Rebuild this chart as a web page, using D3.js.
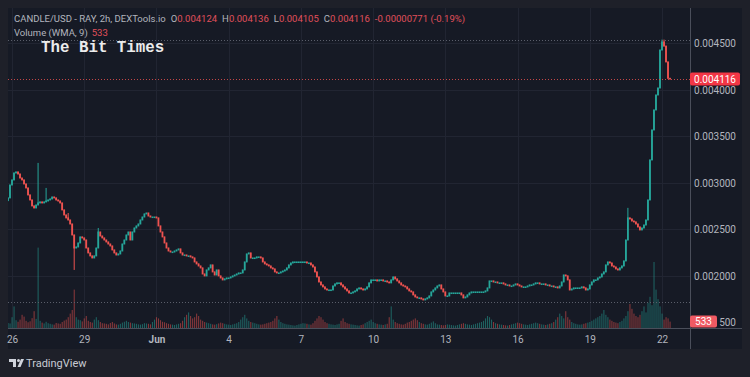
<!DOCTYPE html>
<html><head><meta charset="utf-8">
<script src="https://cdn.jsdelivr.net/npm/d3@7"></script>
<style>html,body{margin:0;padding:0;background:#1e2029;}svg{display:block}</style>
</head><body>
<svg id="c" width="750" height="377"></svg>
<script>
// ---- data ----
const firstCandle = "2023-05-25 20:00";   // 2h candles
const firstOpen = 0.002810;
const closes = [
0.002839,0.002978,0.003032,0.003107,0.003118,0.003096,0.003053,0.003032,0.002989,0.002946,
0.002871,0.002817,0.002753,0.002731,0.002763,0.002785,0.002796,0.002785,0.002796,0.002806,
0.002817,0.002828,0.002849,0.002839,0.002817,0.002806,0.002785,0.002710,0.002656,0.002624,
0.002602,0.002559,0.002441,0.002301,0.002312,0.002355,0.002420,0.002409,0.002387,0.002301,
0.002248,0.002216,0.002194,0.002216,0.002301,0.002473,0.002430,0.002409,0.002387,0.002366,
0.002344,0.002323,0.002280,0.002248,0.002226,0.002237,0.002269,0.002344,0.002387,0.002441,
0.002473,0.002387,0.002473,0.002516,0.002538,0.002559,0.002602,0.002634,0.002667,0.002677,
0.002645,0.002634,0.002634,0.002634,0.002624,0.002538,0.002473,0.002420,0.002355,0.002301,
0.002269,0.002258,0.002258,0.002269,0.002280,0.002291,0.002248,0.002226,0.002226,0.002216,
0.002216,0.002205,0.002194,0.002151,0.002130,0.002108,0.002087,0.002022,0.002001,0.002065,
0.002087,0.002119,0.002044,0.002011,0.002065,0.002001,0.001979,0.001958,0.001969,0.001979,
0.001979,0.001990,0.002001,0.002011,0.002022,0.002033,0.002033,0.002065,0.002151,0.002237,
0.002248,0.002194,0.002194,0.002194,0.002205,0.002205,0.002194,0.002151,0.002130,0.002119,
0.002108,0.002087,0.002076,0.002044,0.002033,0.002033,0.002044,0.002054,0.002065,0.002087,
0.002119,0.002140,0.002151,0.002151,0.002151,0.002151,0.002151,0.002151,0.002151,0.002140,
0.002140,0.002119,0.002097,0.002044,0.001990,0.001936,0.001904,0.001883,0.001861,0.001850,
0.001850,0.001850,0.001893,0.001915,0.001926,0.001926,0.001904,0.001883,0.001861,0.001840,
0.001818,0.001818,0.001829,0.001840,0.001861,0.001872,0.001861,0.001850,0.001861,0.001883,
0.001926,0.001958,0.001958,0.001958,0.001947,0.001958,0.001958,0.001947,0.001947,0.001936,
0.001926,0.001958,0.001990,0.001969,0.001947,0.001926,0.001904,0.001893,0.001883,0.001861,
0.001840,0.001829,0.001797,0.001775,0.001765,0.001765,0.001754,0.001743,0.001754,0.001765,
0.001786,0.001829,0.001850,0.001872,0.001893,0.001904,0.001861,0.001829,0.001786,0.001786,
0.001818,0.001818,0.001818,0.001818,0.001818,0.001818,0.001797,0.001765,0.001775,0.001797,
0.001818,0.001829,0.001829,0.001829,0.001829,0.001829,0.001829,0.001829,0.001840,0.001872,
0.001947,0.001947,0.001936,0.001936,0.001926,0.001926,0.001926,0.001915,0.001904,0.001904,
0.001893,0.001893,0.001904,0.001915,0.001904,0.001893,0.001883,0.001883,0.001883,0.001893,
0.001904,0.001904,0.001915,0.001926,0.001926,0.001915,0.001915,0.001915,0.001904,0.001904,
0.001893,0.001893,0.001883,0.001883,0.001872,0.001893,0.001936,0.002011,0.002001,0.001958,
0.001850,0.001861,0.001872,0.001872,0.001872,0.001872,0.001883,0.001872,0.001850,0.001861,
0.001904,0.001936,0.001958,0.001958,0.001979,0.001990,0.002022,0.002044,0.002119,0.002151,
0.002140,0.002108,0.002097,0.002076,0.002065,0.002087,0.002108,0.002162,0.002387,0.002624,
0.002613,0.002591,0.002581,0.002559,0.002527,0.002495,0.002516,0.002548,0.002602,0.002817,
0.003247,0.003569,0.003784,0.003945,0.004020,0.004428,0.004514,0.004470,0.004300,0.004124,
0.004116
];
const wickHighIdx = [15, 19, 30, 45, 309, 326, 327];
const wickHighVal = [0.003215, 0.002946, 0.002677, 0.002516, 0.002732, 0.004540, 0.004540];
const wickLowIdx = [33];
const wickLowVal = [0.002065];
const volumes = [
420,380,900,1800,650,520,700,1100,950,600,480,560,820,1400,760,6700,600,450,380,520,
400,350,300,280,420,380,350,500,620,700,900,1200,1500,3200,900,700,650,550,800,1000,
600,500,450,700,900,650,500,400,380,350,300,420,500,380,300,280,350,450,520,600,
500,450,400,380,350,300,280,320,400,380,350,300,500,700,900,800,650,520,480,400,
350,300,280,250,300,350,400,600,900,1100,1300,1000,800,900,1200,1000,700,600,500,450,
400,350,300,280,320,380,450,400,350,300,280,250,300,350,400,500,700,900,1100,800,
600,500,450,400,350,300,280,300,350,400,450,500,600,800,1000,700,500,400,350,300,
280,250,220,200,250,300,350,400,380,350,300,280,400,600,800,1000,900,700,500,400,
350,300,280,250,300,350,600,800,500,400,350,300,280,250,220,200,250,300,400,500,
600,700,500,400,350,300,280,250,300,350,900,1800,700,500,400,350,300,280,350,450,
500,600,700,800,650,500,400,350,300,280,350,450,550,400,300,280,250,220,250,300,
280,250,220,200,250,300,350,400,350,300,280,250,300,350,400,450,500,600,800,1000,
900,700,500,400,350,300,280,250,220,200,250,300,350,400,450,400,350,300,280,250,
300,350,400,450,400,350,300,280,250,300,350,400,500,700,900,1200,1000,800,1400,900,
700,500,400,350,300,280,300,350,400,450,500,600,700,800,900,1000,1200,1500,1100,900,
700,600,500,450,400,500,600,800,1000,1400,2000,1600,1200,1000,900,1100,1400,1800,1300,2100,
2600,1900,5500,3200,2400,1800,1200,700,900,800,533
];
const priceTicks = [0.0045, 0.004, 0.0035, 0.003, 0.0025, 0.002];
const volTicks = [500];
const dateTicks = ["2023-05-26","2023-05-29","2023-06-01","2023-06-04","2023-06-07","2023-06-10","2023-06-13","2023-06-16","2023-06-19","2023-06-22"];
const lastPrice = 0.004116, lastVolume = 533;
const highMark = 0.00454, lowMark = 0.00172;
const headerTitle = "CANDLE/USD - RAY, 2h, DEXTools.io";
const ohlcLabels = ["O","H","L","C"];
const ohlcValues = ["0.004124","0.004136","0.004105","0.004116"];
const changeText = "-0.00000771 (-0.19%)";

// ---- chart ----
const svg = d3.select("#c");
const W = 750, H = 377;
const pane = {l: 8, t: 8, r: 742, b: 349, axisX: 690, axisY: 328};
const UP = "#26a69a", DOWN = "#ef5350";
const txt = "#b2b5be";
const FONT = "Roboto, 'Noto Sans', sans-serif";

svg.append("rect").attr("width", W).attr("height", H).attr("fill", "#1e2029");
svg.append("rect").attr("x", pane.l).attr("y", pane.t).attr("width", pane.r - pane.l)
  .attr("height", pane.b - pane.t).attr("fill", "#161a25");

const parseDay = d3.timeParse("%Y-%m-%d");
const parseT = d3.timeParse("%Y-%m-%d %H:%M");
const t0 = parseT(firstCandle);
const x = d3.scaleTime().domain([parseDay("2023-05-26"), parseDay("2023-06-22")]).range([12, 662]);
const y = d3.scaleLinear().domain([0.002, 0.0045]).range([276, 43.3]);
const yv = d3.scaleLinear().domain([0, 8000]).range([pane.axisY, pane.axisY - 96]);

const candles = closes.map((c, i) => {
  const o = i === 0 ? firstOpen : closes[i - 1];
  return {t: new Date(t0.getTime() + i * 2 * 3600e3), o, c, h: Math.max(o, c), l: Math.min(o, c), v: volumes[i]};
});
wickHighIdx.forEach((k, j) => { candles[k].h = Math.max(candles[k].h, wickHighVal[j]); });
wickLowIdx.forEach((k, j) => { candles[k].l = Math.min(candles[k].l, wickLowVal[j]); });

svg.append("clipPath").attr("id", "pc").append("rect")
  .attr("x", pane.l).attr("y", pane.t).attr("width", pane.axisX - pane.l).attr("height", pane.axisY - pane.t);

// grid
const grid = svg.append("g").attr("stroke", "#212532").attr("stroke-width", 1);
grid.selectAll("line.h").data(priceTicks).join("line")
  .attr("x1", pane.l).attr("x2", pane.axisX).attr("y1", d => Math.round(y(d)) + 0.5).attr("y2", d => Math.round(y(d)) + 0.5);
grid.selectAll("line.v").data(dateTicks.map(parseDay)).join("line")
  .attr("x1", d => Math.round(x(d)) + 0.5).attr("x2", d => Math.round(x(d)) + 0.5).attr("y1", pane.t).attr("y2", pane.axisY);

const plot = svg.append("g").attr("clip-path", "url(#pc)");
// volume
plot.append("g").selectAll("rect").data(candles).join("rect")
  .attr("x", d => x(d.t) - 0.5).attr("width", 1.1)
  .attr("y", d => yv(d.v)).attr("height", d => pane.axisY - yv(d.v))
  .attr("fill", d => d.c >= d.o ? "rgba(38,166,154,0.5)" : "rgba(239,83,80,0.5)");

// high/low dotted markers
[highMark, lowMark].forEach(v => {
  svg.append("line").attr("x1", pane.l).attr("x2", pane.axisX).attr("y1", Math.round(y(v)) + 0.5).attr("y2", Math.round(y(v)) + 0.5)
    .attr("stroke", "#5a5e6a").attr("stroke-dasharray", "1,2");
});

// candles
const cg = plot.append("g");
cg.selectAll("line").data(candles).join("line")
  .attr("x1", d => x(d.t)).attr("x2", d => x(d.t))
  .attr("y1", d => y(d.h)).attr("y2", d => y(d.l))
  .attr("stroke", d => d.c >= d.o ? UP : DOWN).attr("stroke-width", 1);
cg.selectAll("rect").data(candles).join("rect")
  .attr("x", d => x(d.t) - 0.9).attr("width", 1.8)
  .attr("y", d => y(Math.max(d.o, d.c)) - 0.5)
  .attr("height", d => Math.max(1.6, Math.abs(y(d.o) - y(d.c)) + 1))
  .attr("fill", d => d.c >= d.o ? UP : DOWN);

// last price line
svg.append("line").attr("x1", pane.l).attr("x2", pane.axisX)
  .attr("y1", Math.round(y(lastPrice)) + 0.5).attr("y2", Math.round(y(lastPrice)) + 0.5)
  .attr("stroke", DOWN).attr("stroke-dasharray", "1,2").attr("stroke-opacity", 0.8);

// axis borders
svg.append("line").attr("x1", pane.axisX + 0.5).attr("x2", pane.axisX + 0.5).attr("y1", pane.t).attr("y2", pane.b).attr("stroke", "#4a4e5a");
svg.append("line").attr("x1", pane.l).attr("x2", pane.r).attr("y1", pane.axisY + 0.5).attr("y2", pane.axisY + 0.5).attr("stroke", "#4a4e5a");

// price axis
const pAxis = svg.append("g").attr("transform", `translate(736,0)`)
  .call(d3.axisLeft(y).tickValues(priceTicks).tickFormat(d => d.toFixed(6)).tickSize(0).tickPadding(0));
pAxis.select(".domain").remove();
pAxis.selectAll("text").attr("fill", txt).attr("font-family", FONT).attr("font-size", 10);
const vAxis = svg.append("g").attr("transform", `translate(736,0)`)
  .call(d3.axisLeft(yv).tickValues(volTicks).tickFormat(d3.format("d")).tickSize(0).tickPadding(0));
vAxis.select(".domain").remove();
vAxis.selectAll("text").attr("fill", txt).attr("font-family", FONT).attr("font-size", 10);

// last price label
svg.append("rect").attr("x", pane.axisX).attr("y", y(lastPrice) - 6.5).attr("width", 50).attr("height", 13).attr("rx", 2).attr("fill", "#f23645");
svg.append("text").attr("x", 736).attr("y", y(lastPrice) + 3.5).attr("text-anchor", "end")
  .attr("fill", "#fff").attr("font-family", FONT).attr("font-size", 10).text(lastPrice.toFixed(6));
// last volume label
svg.append("rect").attr("x", pane.axisX).attr("y", yv(lastVolume) - 6).attr("width", 27).attr("height", 12).attr("rx", 2).attr("fill", "#f05a63");
svg.append("text").attr("x", pane.axisX + 13.5).attr("y", yv(lastVolume) + 3.5).attr("text-anchor", "middle")
  .attr("fill", "#fff").attr("font-family", FONT).attr("font-size", 10).text(lastVolume);

// time axis
const tAxis = svg.append("g").attr("transform", `translate(0,${pane.axisY})`)
  .call(d3.axisBottom(x).tickValues(dateTicks.map(parseDay))
    .tickFormat(d => d.getDate() === 1 ? d3.timeFormat("%b")(d) : d.getDate()).tickSize(0).tickPadding(8));
tAxis.select(".domain").remove();
tAxis.selectAll("text").attr("fill", txt).attr("font-family", FONT).attr("font-size", 10)
  .attr("font-weight", d => d.getDate() === 1 ? "bold" : "normal");

// header
const h1 = svg.append("text").attr("x", 14).attr("y", 22).attr("font-family", FONT).attr("font-size", 9.5).attr("fill", txt);
h1.append("tspan").text(headerTitle);
ohlcLabels.forEach((l, i) => {
  h1.append("tspan").attr("dx", i === 0 ? 5 : 5).text(l);
  h1.append("tspan").attr("fill", "#e0505b").text(ohlcValues[i]);
});
h1.append("tspan").attr("dx", 5).attr("fill", "#e0505b").text(changeText);
const h2 = svg.append("text").attr("x", 14).attr("y", 36).attr("font-family", FONT).attr("font-size", 9.5).attr("fill", txt);
h2.append("tspan").text("Volume (WMA, 9)");
h2.append("tspan").attr("dx", 4).attr("fill", "#e0505b").text(lastVolume);

// watermark
svg.append("text").attr("x", 41).attr("y", 52).attr("font-family", "'Liberation Mono', 'DejaVu Sans Mono', monospace")
  .attr("font-weight", "bold").attr("font-size", 15.8).attr("fill", "#ececec").text("The Bit Times");

// TradingView logo
const lg = svg.append("g").attr("fill", "#d1d4dc");
lg.append("path").attr("d", "M9,359 h7 v8 h-3 v-5 h-4 z");
lg.append("circle").attr("cx", 18.5).attr("cy", 360.5).attr("r", 1.5);
lg.append("path").attr("d", "M21,359 h3 l-3.5,8 h-3 z");
svg.append("text").attr("x", 26).attr("y", 367).attr("font-family", FONT).attr("font-size", 11).attr("fill", "#c8cbd3").text("TradingView");
</script>
</body></html>
